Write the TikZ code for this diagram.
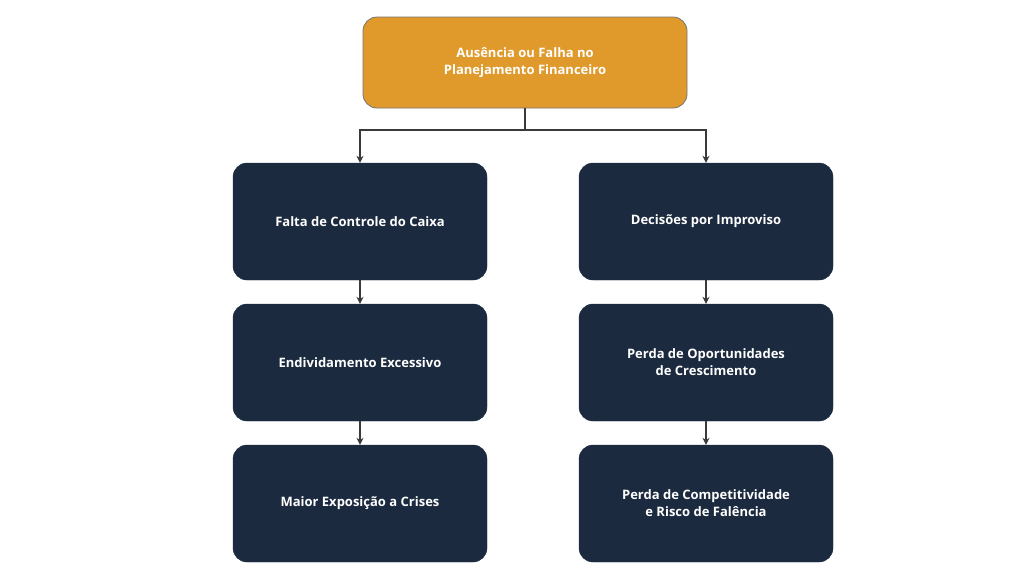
\documentclass[tikz,border=0pt]{standalone}
\usepackage{fontspec}
\setmainfont{Open Sans}
\usetikzlibrary{arrows.meta}
\definecolor{orangebox}{HTML}{E09A2B}
\definecolor{navy}{HTML}{1B2A3F}
\definecolor{lin}{HTML}{3A3A3A}
\begin{document}
\begin{tikzpicture}[x=1pt,y=-1pt,
  box/.style={rounded corners=14pt,fill=navy,draw=navy,text=white,font=\bfseries\fontsize{13}{17}\selectfont,align=center,minimum width=254pt,minimum height=117pt,inner sep=0pt},
  top/.style={box,fill=orangebox,draw=lin!70,line width=0.8pt,minimum width=324pt,minimum height=91pt},
  arr/.style={draw=lin,line width=1.3pt,-{Stealth[length=7pt,width=7pt]}}]
\useasboundingbox (0,0) rectangle (1024,576);
\fill[white] (0,0) rectangle (1024,576);
\node[top] (t) at (525,62.5) {Ausência ou Falha no\\Planejamento Financeiro};
\node[box] (l1) at (360,221.5) {Falta de Controle do Caixa};
\node[box] (l2) at (360,362.5) {Endividamento Excessivo};
\node[box] (l3) at (360,503.5) {Maior Exposição a Crises};
\node[box] (r1) at (706,221.5) {Decisões por Improviso};
\node[box] (r2) at (706,362.5) {Perda de Oportunidades\\de Crescimento};
\node[box] (r3) at (706,503.5) {Perda de Competitividade\\e Risco de Falência};
\coordinate (j) at (525,130);
\draw[draw=lin,line width=1.3pt] (t.south) -- (j);
\draw[arr] (j) -| (l1.north);
\draw[arr] (j) -| (r1.north);
\draw[arr] (l1) -- (l2);
\draw[arr] (l2) -- (l3);
\draw[arr] (r1) -- (r2);
\draw[arr] (r2) -- (r3);
\end{tikzpicture}
\end{document}
